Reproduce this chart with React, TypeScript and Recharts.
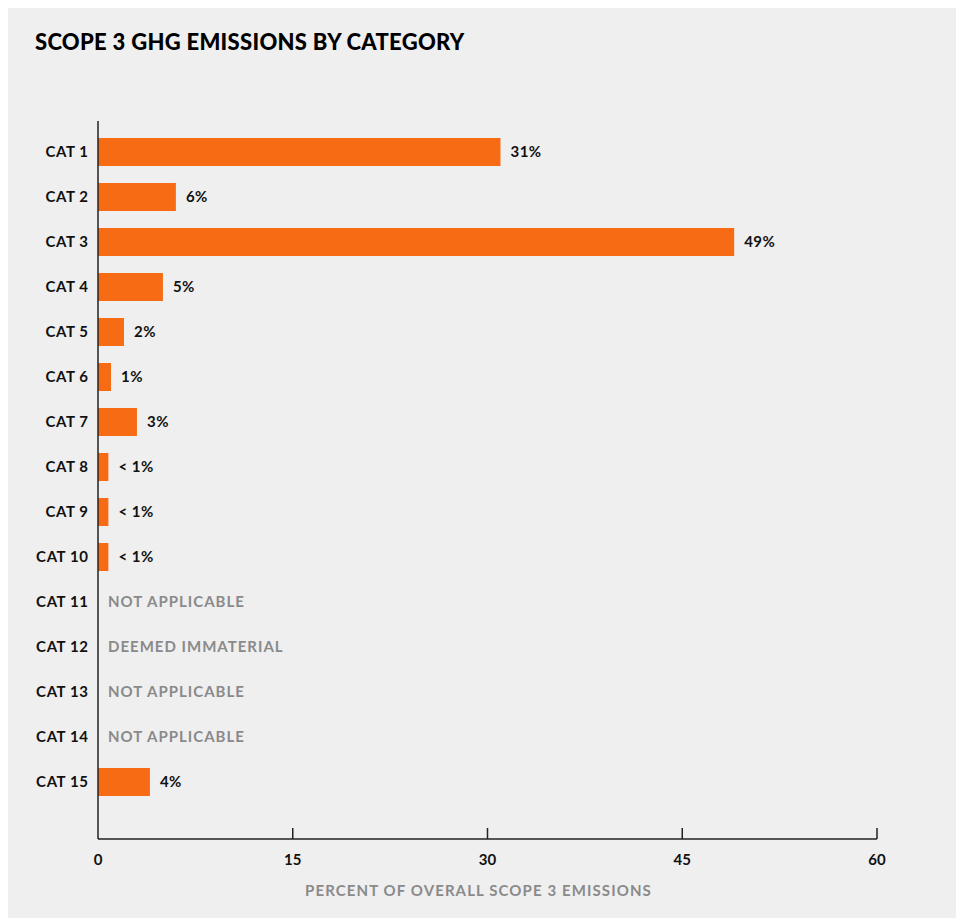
import React from 'react';
import { BarChart, Bar, XAxis, YAxis, LabelList } from 'recharts';

const categories = [
  'CAT 1', 'CAT 2', 'CAT 3', 'CAT 4', 'CAT 5', 'CAT 6', 'CAT 7', 'CAT 8',
  'CAT 9', 'CAT 10', 'CAT 11', 'CAT 12', 'CAT 13', 'CAT 14', 'CAT 15',
];
// percent of overall scope 3 emissions; null = no bar
const shares: (number | null)[] = [31, 6, 49, 5, 2, 1, 3, 0.8, 0.8, 0.8, null, null, null, null, 4];
const valueLabels = ['31%', '6%', '49%', '5%', '2%', '1%', '3%', '< 1%', '< 1%', '< 1%', '', '', '', '', '4%'];
const notes = [
  '', '', '', '', '', '', '', '', '', '',
  'NOT APPLICABLE', 'DEEMED IMMATERIAL', 'NOT APPLICABLE', 'NOT APPLICABLE', '',
];
const xTicks = [0, 15, 30, 45, 60];

const data = categories.map((cat, i) => ({
  cat,
  share: shares[i],
  label: valueLabels[i],
}));

const FONT = 'Lato, "Noto Sans", sans-serif';
const ORANGE = '#f76b15';
const INK = '#111111';
const GREY = '#8a8a8a';

const CategoryTick = ({ x, y, payload }: any) => {
  const note = notes[categories.indexOf(payload.value)];
  return (
    <g>
      <text
        x={x + 0.6}
        y={y}
        dy="0.35em"
        textAnchor="end"
        fontSize={15}
        fontWeight={700}
        fill={INK}
        fontFamily={FONT}
        style={{ letterSpacing: '0.6px' }}
      >
        {payload.value}
      </text>
      {note && (
        <text
          x={x + 20}
          y={y}
          dy="0.35em"
          textAnchor="start"
          fontSize={15}
          fontWeight={700}
          fill={GREY}
          fontFamily={FONT}
          style={{ letterSpacing: '1px' }}
        >
          {note}
        </text>
      )}
    </g>
  );
};

const PercentTick = ({ x, y, payload }: any) => (
  <g>
    {payload.value !== 0 && <line x1={x} x2={x} y1={y - 11} y2={y} stroke="#222" strokeWidth={1.5} />}
    <text x={x} y={y + 26} textAnchor="middle" fontSize={15} fontWeight={700} fill={INK} fontFamily={FONT}>
      {payload.value}
    </text>
  </g>
);

const renderValueLabel = (props: any) => {
  const { x, y, width, height, value } = props;
  if (!value) return null;
  return (
    <text
      x={x + width + 10}
      y={y + height / 2}
      dy="0.35em"
      fontSize={15}
      fontWeight={700}
      fill={INK}
      fontFamily={FONT}
      style={{ letterSpacing: '0.5px' }}
    >
      {value}
    </text>
  );
};

export default function App() {
  return (
    <div style={{ width: 956, height: 910, background: '#efefef', position: 'relative', fontFamily: FONT }}>
      <div
        style={{
          position: 'absolute',
          left: 27,
          top: 23,
          fontSize: 22,
          lineHeight: '22px',
          fontWeight: 900,
          letterSpacing: '0.3px',
          color: '#000',
          zIndex: 1,
        }}
      >
        SCOPE 3 GHG EMISSIONS BY CATEGORY
      </div>
      <BarChart
        width={956}
        height={910}
        data={data}
        layout="vertical"
        margin={{ top: 113, right: 87, left: 10, bottom: 19 }}
      >
        <XAxis
          type="number"
          domain={[0, 60]}
          ticks={xTicks}
          interval={0}
          axisLine={{ stroke: '#222', strokeWidth: 1.5 }}
          tickLine={false}
          tickSize={0}
          tickMargin={0}
          tick={<PercentTick />}
          height={60}
          label={{
            value: 'PERCENT OF OVERALL SCOPE 3 EMISSIONS',
            position: 'insideBottom',
            offset: 3,
            dx: -9,
            fill: GREY,
            fontSize: 15,
            fontWeight: 700,
            fontFamily: FONT,
            style: { letterSpacing: '1.1px' },
          }}
        />
        <YAxis
          type="category"
          dataKey="cat"
          width={80}
          interval={0}
          axisLine={{ stroke: '#222', strokeWidth: 1.5 }}
          tickLine={false}
          tickSize={0}
          tickMargin={10}
          padding={{ top: 8, bottom: 35 }}
          tick={<CategoryTick />}
        />
        <Bar dataKey="share" fill={ORANGE} barSize={28} isAnimationActive={false}>
          <LabelList dataKey="label" content={renderValueLabel} />
        </Bar>
      </BarChart>
    </div>
  );
}
